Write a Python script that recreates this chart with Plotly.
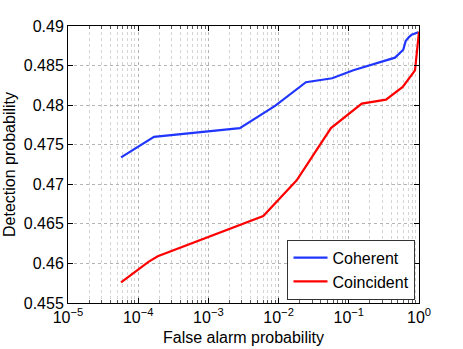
import plotly.graph_objects as go

# Coherent curve (false alarm prob, detection prob)
coh_pfa = [5.7e-5, 1.68e-4, 2.8e-3, 8.9e-3, 0.0245, 0.058, 0.116, 0.455, 0.597, 0.646, 0.72, 0.786, 0.977]
coh_pd = [0.4734, 0.4760, 0.4771, 0.4799, 0.4829, 0.4834, 0.4844, 0.4860, 0.4870, 0.4881, 0.4886, 0.4889, 0.4892]

# Coincident curve
coi_pfa = [5.7e-5, 1.0e-4, 1.4e-4, 1.9e-4, 6.05e-3, 0.0181, 0.0557, 0.153, 0.339, 0.586, 0.877, 1.0]
coi_pd = [0.4576, 0.4592, 0.4602, 0.4609, 0.4660, 0.4705, 0.4771, 0.4802, 0.4807, 0.4823, 0.4844, 0.4893]

x_ticks = [1e-5, 1e-4, 1e-3, 1e-2, 1e-1, 1]
x_labels = ["10<sup>−5</sup>", "10<sup>−4</sup>", "10<sup>−3</sup>", "10<sup>−2</sup>", "10<sup>−1</sup>", "10<sup>0</sup>"]
y_ticks = [0.455, 0.46, 0.465, 0.47, 0.475, 0.48, 0.485, 0.49]
y_labels = ["0.455", "0.46", "0.465", "0.47", "0.475", "0.48", "0.485", "0.49"]

fig = go.Figure()
fig.add_trace(go.Scatter(x=coh_pfa, y=coh_pd, mode="lines", name="Coherent",
                         line=dict(color="#2036ff", width=2.2)))
fig.add_trace(go.Scatter(x=coi_pfa, y=coi_pd, mode="lines", name="Coincident",
                         line=dict(color="#ff0000", width=2.2)))

fig.update_layout(
    width=463, height=349,
    margin=dict(l=68, r=44, t=26, b=46, autoexpand=False),
    paper_bgcolor="white", plot_bgcolor="white",
    font=dict(family="Arial", size=16, color="black"),
    legend=dict(x=0.99, y=0.012, xanchor="right", yanchor="bottom",
                bgcolor="white", bordercolor="#333333", borderwidth=1,
                font=dict(family="Arial", size=16), itemwidth=34, tracegroupgap=0),
)
# x title as a fixed-position annotation so it sits close under the tick labels
fig.add_annotation(text="False alarm probability", xref="paper", yref="paper",
                   x=0.5, y=-0.126, xanchor="center", yanchor="middle",
                   showarrow=False, font=dict(family="Arial", size=16))
fig.update_xaxes(
    type="log", range=[-5, 0],
    tickvals=x_ticks, ticktext=x_labels, tickfont=dict(family="Arial", size=16),
    ticks="inside", ticklen=5, tickcolor="black",
    showline=True, linecolor="black", linewidth=1, mirror="ticks",
    showgrid=True, gridcolor="#b4b4b4", griddash="dot", gridwidth=1,
    minor=dict(dtick="D1", ticks="inside", ticklen=3, tickcolor="#555555",
               showgrid=True, gridcolor="#d4d4d4", griddash="dot"),
    zeroline=False,
)
fig.update_yaxes(
    range=[0.455, 0.49],
    tickvals=y_ticks, ticktext=y_labels, tickfont=dict(family="Arial", size=16),
    ticks="inside", ticklen=5, tickcolor="black",
    showline=True, linecolor="black", linewidth=1, mirror="ticks",
    showgrid=True, gridcolor="#b4b4b4", griddash="dot", gridwidth=1,
    zeroline=False,
    title=dict(text="Detection probability", standoff=4, font=dict(family="Arial", size=16)),
)

# drop the browser's default 8px body margin so the figure sits at the page corner
fig.write_html("out.html", config={"displayModeBar": False},
               post_script="document.body.style.margin='0';")
